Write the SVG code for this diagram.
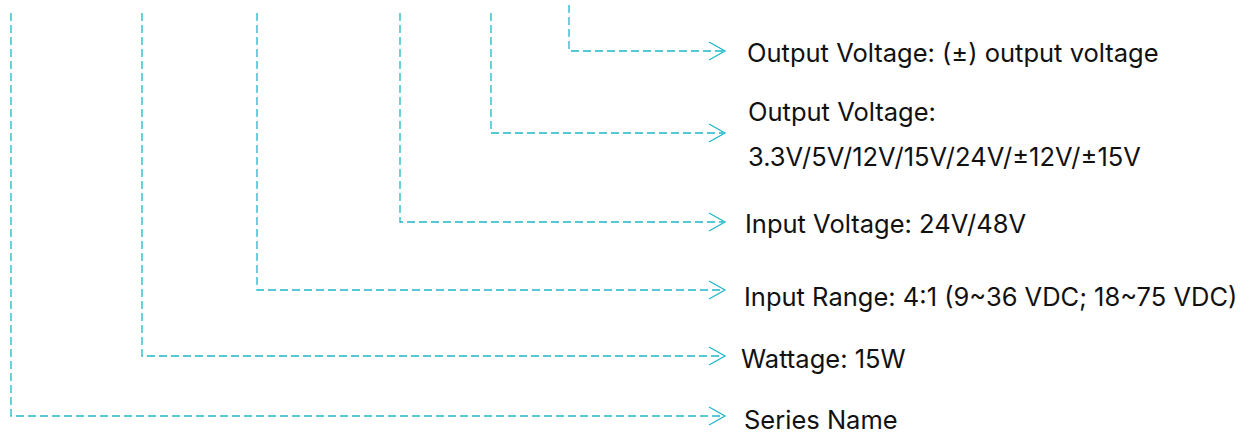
<svg xmlns="http://www.w3.org/2000/svg" width="1253" height="432" viewBox="0 0 1253 432">
<style>
.c{fill:none;stroke:#1fb8c9;stroke-width:1.3;stroke-dasharray:8 4}
.h{fill:none;stroke:#1fb8c9;stroke-width:1.3}
.t{font-family:Inter,"Noto Sans",sans-serif;font-size:25.5px;fill:#111}
</style>
<rect width="1253" height="432" fill="#fff"/>
<g id="connectors">
<path class="c" d="M569 5V51H723"/><path class="h" d="M709 42L725 51L709 60"/>
<path class="c" d="M491 13V133H723"/><path class="h" d="M709 124L725 133L709 142"/>
<path class="c" d="M400 13V222H723"/><path class="h" d="M709 213L725 222L709 231"/>
<path class="c" d="M257 13V290H723"/><path class="h" d="M709 281L725 290L709 299"/>
<path class="c" d="M142 13V356H723"/><path class="h" d="M709 347L725 356L709 365"/>
<path class="c" d="M11 13V416H723"/><path class="h" d="M709 407L725 416L709 425"/>
</g>
<g id="n1"><text class="t" x="747" y="62">Output Voltage: (±) output voltage</text></g>
<g id="n2"><text class="t" x="748" y="121">Output Voltage:</text><text class="t" x="748" y="166">3.3V/5V/12V/15V/24V/±12V/±15V</text></g>
<g id="n3"><text class="t" x="745" y="233">Input Voltage: 24V/48V</text></g>
<g id="n4"><text class="t" x="744" y="306">Input Range: 4:1 (9~36 VDC; 18~75 VDC)</text></g>
<g id="n5"><text class="t" x="741" y="368">Wattage: 15W</text></g>
<g id="n6"><text class="t" x="744" y="429">Series Name</text></g>
</svg>
